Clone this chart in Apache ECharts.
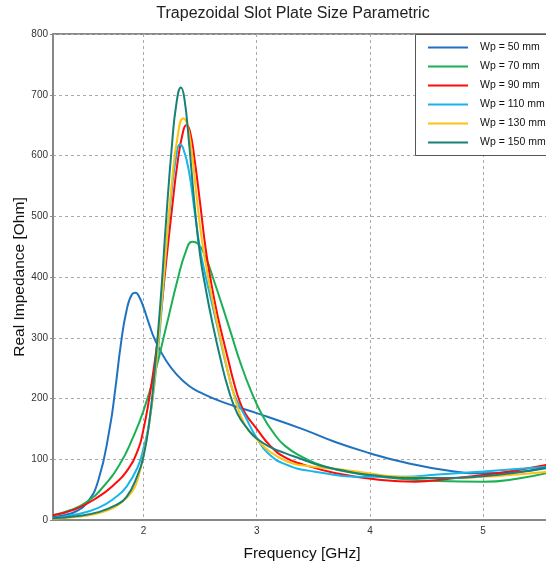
<!DOCTYPE html>
<html>
<head>
<meta charset="utf-8">
<script src="https://cdn.jsdelivr.net/npm/echarts@6/dist/echarts.min.js"></script>
<style>
  html, body { margin: 0; padding: 0; background: #fff; }
  #chart { width: 546px; height: 567px; }
</style>
</head>
<body>
<div id="chart"></div>
<script>
// Real part of the input impedance versus frequency for several plate widths Wp
const seriesNames = ['Wp = 50 mm', 'Wp = 70 mm', 'Wp = 90 mm', 'Wp = 110 mm', 'Wp = 130 mm', 'Wp = 150 mm'];
const seriesColors = ['#1f72c0', '#1bb055', '#ff0a0a', '#18b4ea', '#ffc20e', '#178078'];

const freqWp50 = [1.2, 1.3, 1.4, 1.5, 1.6, 1.7, 1.75, 1.8, 1.85, 1.9, 1.93, 1.96, 2.0, 2.05, 2.1, 2.2, 2.3, 2.4, 2.5, 2.7, 3.0, 3.4, 3.7, 4.0, 4.3, 4.7, 5.0, 5.3, 5.6];
const realWp50 = [5, 8, 14, 28, 65, 150, 215, 290, 345, 372, 374, 368, 350, 322, 297, 262, 238, 221, 210, 194, 176, 150, 128, 110, 95, 81, 77, 79, 87];

const freqWp70 = [1.2, 1.35, 1.5, 1.65, 1.8, 1.9, 2.0, 2.1, 2.2, 2.3, 2.37, 2.43, 2.48, 2.55, 2.62, 2.7, 2.78, 2.85, 2.95, 3.05, 3.15, 3.25, 3.4, 3.6, 3.9, 4.2, 4.6, 5.0, 5.3, 5.6];
const realWp70 = [8, 16, 30, 56, 95, 133, 180, 242, 318, 395, 440, 458, 455, 432, 395, 350, 303, 262, 212, 172, 143, 122, 104, 88, 76, 69, 64, 63, 68, 79];

const freqWp90 = [1.2, 1.4, 1.6, 1.75, 1.85, 1.95, 2.0, 2.05, 2.1, 2.15, 2.2, 2.25, 2.3, 2.35, 2.38, 2.41, 2.45, 2.5, 2.55, 2.6, 2.65, 2.7, 2.75, 2.8, 2.85, 2.9, 3.0, 3.12, 3.25, 3.4, 3.7, 4.1, 4.4, 4.7, 5.0, 5.3, 5.6];
const realWp90 = [8, 18, 38, 60, 80, 115, 150, 200, 262, 335, 425, 510, 588, 640, 650, 640, 595, 521, 445, 388, 340, 300, 262, 225, 195, 175, 150, 122, 103, 92, 77, 66, 63, 68, 74, 82, 92];

const freqWp110 = [1.2, 1.4, 1.6, 1.75, 1.85, 1.95, 2.0, 2.05, 2.1, 2.15, 2.2, 2.25, 2.29, 2.32, 2.35, 2.4, 2.45, 2.5, 2.55, 2.6, 2.65, 2.7, 2.75, 2.8, 2.9, 3.0, 3.1, 3.25, 3.5, 4.0, 4.3, 4.6, 5.0, 5.3, 5.6];
const realWp110 = [3, 9, 20, 37, 55, 88, 118, 160, 230, 325, 445, 545, 600, 618, 612, 575, 510, 445, 400, 360, 320, 278, 240, 207, 170, 135, 110, 92, 80, 71, 71, 75, 80, 84, 88];

const freqWp130 = [1.2, 1.4, 1.55, 1.7, 1.8, 1.9, 1.95, 2.0, 2.05, 2.1, 2.15, 2.2, 2.25, 2.3, 2.35, 2.38, 2.42, 2.47, 2.52, 2.58, 2.65, 2.72, 2.8, 2.9, 3.0, 3.12, 3.25, 3.4, 3.8, 4.27, 4.7, 5.0, 5.3, 5.6];
const realWp130 = [2, 5, 9, 17, 28, 47, 68, 108, 160, 235, 335, 450, 555, 630, 661, 655, 615, 530, 455, 390, 325, 265, 205, 155, 133, 112, 98, 90, 82, 71, 69, 71, 75, 80];

const freqWp150 = [1.2, 1.4, 1.6, 1.75, 1.85, 1.95, 2.0, 2.05, 2.1, 2.15, 2.2, 2.25, 2.29, 2.33, 2.36, 2.4, 2.45, 2.5, 2.55, 2.6, 2.68, 2.75, 2.83, 2.92, 3.0, 3.12, 3.25, 3.4, 3.55, 3.8, 4.0, 4.4, 4.7, 5.0, 5.3, 5.6];
const realWp150 = [3, 6, 13, 24, 38, 75, 105, 160, 250, 360, 495, 615, 685, 712, 695, 625, 520, 435, 380, 332, 265, 215, 175, 150, 134, 120, 110, 100, 90, 80, 74, 69, 69, 72, 78, 88];

const xTickValues = [2, 3, 4, 5];

const freqSets = [freqWp50, freqWp70, freqWp90, freqWp110, freqWp130, freqWp150];
const realSets = [realWp50, realWp70, realWp90, realWp110, realWp130, realWp150];

const chart = echarts.init(document.getElementById('chart'), null, { renderer: 'canvas' });

const font = 'Arial, "Liberation Sans", sans-serif';

const series = seriesNames.map((name, i) => ({
  name: name,
  type: 'line',
  data: freqSets[i].map((f, k) => [f, realSets[i][k]]),
  smooth: 0.5,
  showSymbol: false,
  symbol: 'none',
  lineStyle: { color: seriesColors[i], width: 2 },
  itemStyle: { color: seriesColors[i] },
  emphasis: { disabled: true }
}));

chart.setOption({
  animation: false,
  backgroundColor: '#ffffff',
  title: {
    text: 'Trapezoidal Slot Plate Size Parametric',
    left: 288,
    textAlign: 'center',
    top: 1,
    textStyle: { fontFamily: font, fontSize: 16, fontWeight: 'normal', color: '#222' }
  },
  // legend frame, running past the right edge of the view
  graphic: [{
    type: 'rect',
    left: 415,
    top: 34,
    z: 3,
    shape: { width: 160, height: 121 },
    style: { fill: '#ffffff', stroke: '#555', lineWidth: 1 }
  }],
  legend: {
    orient: 'vertical',
    left: 415,
    top: 34,
    z: 4,
    padding: [4, 10, 3, 13],
    itemGap: 0,
    itemWidth: 40,
    itemHeight: 2,
    icon: 'rect',
    backgroundColor: 'transparent',
    borderWidth: 0,
    textStyle: { fontFamily: font, fontSize: 10.5, color: '#111', lineHeight: 19, padding: [0, 0, 0, 7] },
    data: seriesNames
  },
  // the plot area runs a few pixels past the right edge of the view
  grid: {
    left: 53,
    top: 34,
    width: 498,
    height: 486,
    outerBoundsMode: 'none',
    containLabel: false,
    show: true,
    borderColor: '#888',
    borderWidth: 2,
    backgroundColor: 'transparent'
  },
  xAxis: {
    type: 'value',
    min: 1.2,
    max: 5.6,
    name: 'Frequency [GHz]',
    nameLocation: 'middle',
    nameGap: 26,
    nameTextStyle: { fontFamily: font, fontSize: 15.5, color: '#111' },
    axisLine: { show: true, lineStyle: { color: '#888', width: 2 } },
    axisTick: { show: false, customValues: xTickValues },
    axisLabel: { customValues: xTickValues, fontFamily: font, fontSize: 10, color: '#333', margin: 6 },
    splitLine: { show: true, lineStyle: { color: '#aaa', type: [3, 3], width: 1 } }
  },
  yAxis: {
    type: 'value',
    min: 0,
    max: 800,
    interval: 100,
    name: 'Real Impedance [Ohm]',
    nameLocation: 'middle',
    nameGap: 25,
    nameMoveOverlap: false,
    nameTextStyle: { fontFamily: font, fontSize: 15.5, color: '#111' },
    axisLine: { show: true, lineStyle: { color: '#888', width: 2 } },
    axisTick: { show: true, length: 3, lineStyle: { color: '#888' } },
    axisLabel: { fontFamily: font, fontSize: 10, color: '#333', margin: 5 },
    splitLine: { show: true, lineStyle: { color: '#aaa', type: [3, 3], width: 1 } }
  },
  series: series
});
</script>
</body>
</html>
